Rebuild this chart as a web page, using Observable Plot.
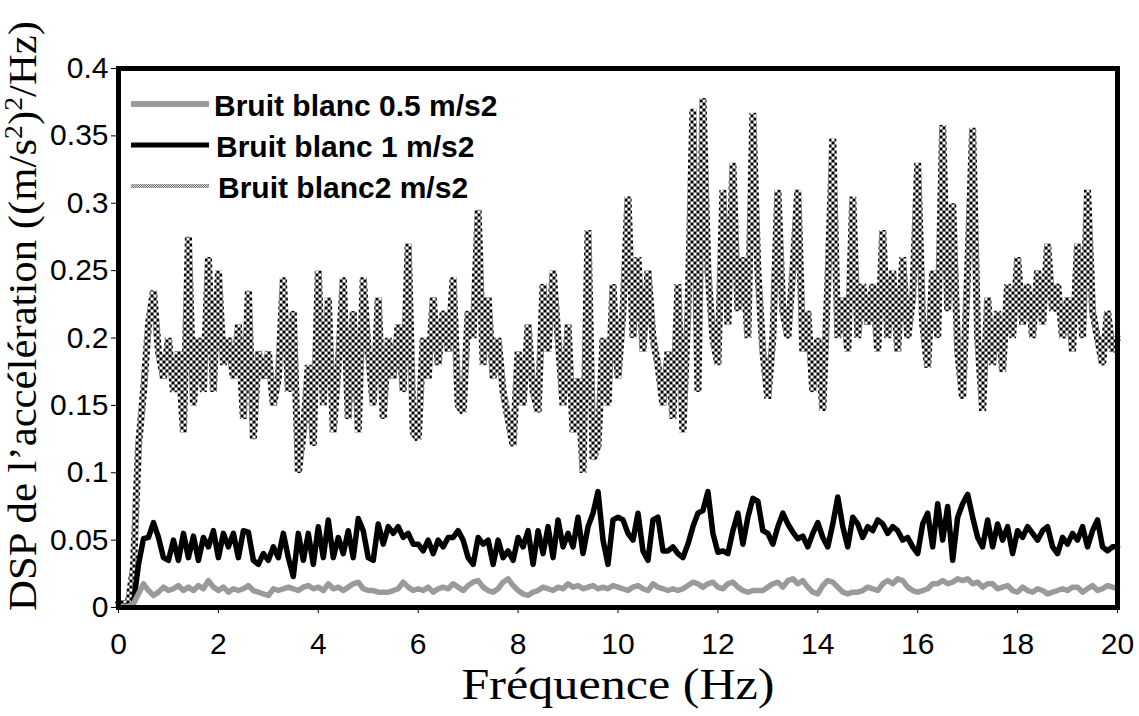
<!DOCTYPE html>
<html><head><meta charset="utf-8">
<script src="https://cdn.jsdelivr.net/npm/d3@7"></script>
<script src="https://cdn.jsdelivr.net/npm/@observablehq/plot@0.6"></script>
<style>body{margin:0;background:#fff}</style>
</head><body>
<svg width="0" height="0" style="position:absolute">
<defs>
<pattern id="checker" patternUnits="userSpaceOnUse" width="6" height="6">
<rect x="0" y="0" width="3" height="3" fill="#000"/>
<rect x="3" y="3" width="3" height="3" fill="#000"/>
</pattern>
<pattern id="checkerLegend" patternUnits="userSpaceOnUse" width="2" height="2">
<rect width="2" height="2" fill="#d8d8d8"/>
<rect x="0" y="0" width="1" height="1" fill="#777"/>
<rect x="1" y="1" width="1" height="1" fill="#777"/>
</pattern>
</defs></svg>
<div id="chart"></div>
<script>
// Frequency grid step (Hz) of the sampled spectra, from 0 to 20 Hz
const freqStep = 0.1;

// Bruit blanc 0.5 m/s2 (gray line)
const bruit05 = [
0.001,0.001,0.001,0.003,0.0101,0.0176,0.0126,0.0089,0.0114,0.0151,
0.0126,0.0139,0.0163,0.0126,0.0151,0.0126,0.0163,0.0139,0.0200,0.0151,
0.0126,0.0151,0.0114,0.0139,0.0126,0.0139,0.0163,0.0126,0.0114,0.0101,
0.0089,0.0139,0.0126,0.0139,0.0151,0.0139,0.0126,0.0151,0.0163,0.0139,
0.0151,0.0126,0.0176,0.0139,0.0151,0.0126,0.0151,0.0176,0.0188,0.0139,
0.0126,0.0126,0.0114,0.0114,0.0114,0.0126,0.0139,0.0188,0.0151,0.0126,
0.0139,0.0126,0.0151,0.0114,0.0139,0.0151,0.0139,0.0176,0.0151,0.0126,
0.0163,0.0188,0.0200,0.0151,0.0126,0.0114,0.0139,0.0188,0.0213,0.0163,
0.0126,0.0101,0.0089,0.0114,0.0126,0.0151,0.0139,0.0126,0.0151,0.0139,
0.0176,0.0151,0.0163,0.0139,0.0151,0.0163,0.0139,0.0151,0.0139,0.0163,
0.0151,0.0139,0.0126,0.0151,0.0163,0.0139,0.0126,0.0176,0.0151,0.0139,
0.0126,0.0139,0.0126,0.0139,0.0163,0.0188,0.0176,0.0151,0.0176,0.0188,
0.0151,0.0139,0.0176,0.0188,0.0151,0.0126,0.0114,0.0126,0.0126,0.0126,
0.0151,0.0176,0.0188,0.0151,0.0200,0.0213,0.0176,0.0200,0.0151,0.0114,
0.0101,0.0163,0.0200,0.0188,0.0151,0.0114,0.0101,0.0114,0.0114,0.0126,
0.0151,0.0139,0.0126,0.0176,0.0200,0.0176,0.0213,0.0200,0.0151,0.0126,
0.0114,0.0126,0.0139,0.0176,0.0176,0.0200,0.0176,0.0188,0.0213,0.0200,
0.0213,0.0176,0.0188,0.0151,0.0176,0.0176,0.0139,0.0151,0.0163,0.0126,
0.0114,0.0151,0.0126,0.0114,0.0139,0.0126,0.0101,0.0114,0.0126,0.0139,
0.0126,0.0151,0.0151,0.0114,0.0139,0.0163,0.0126,0.0139,0.0163,0.0151,
0.0139
];

// Bruit blanc 1 m/s2 (black line)
const bruit1 = [
0.001,0.001,0.002,0.003,0.032,0.051,0.052,0.063,0.052,0.037,
0.035,0.050,0.035,0.055,0.037,0.053,0.035,0.052,0.045,0.057,
0.037,0.055,0.045,0.055,0.037,0.057,0.056,0.035,0.032,0.040,
0.035,0.045,0.037,0.055,0.037,0.023,0.055,0.035,0.055,0.032,
0.060,0.037,0.065,0.037,0.052,0.040,0.057,0.037,0.066,0.057,
0.037,0.035,0.062,0.047,0.060,0.055,0.060,0.052,0.055,0.047,
0.047,0.042,0.050,0.040,0.050,0.045,0.052,0.052,0.057,0.050,
0.037,0.032,0.052,0.047,0.050,0.032,0.050,0.037,0.042,0.035,
0.052,0.045,0.057,0.032,0.057,0.040,0.060,0.037,0.065,0.045,
0.055,0.045,0.067,0.040,0.060,0.070,0.086,0.050,0.032,0.065,
0.067,0.065,0.055,0.050,0.070,0.042,0.035,0.065,0.067,0.042,
0.042,0.045,0.040,0.037,0.047,0.060,0.070,0.072,0.086,0.055,
0.041,0.042,0.040,0.057,0.070,0.047,0.067,0.081,0.079,0.057,
0.055,0.047,0.060,0.070,0.062,0.056,0.051,0.053,0.045,0.055,
0.063,0.052,0.045,0.062,0.082,0.060,0.045,0.067,0.062,0.052,
0.060,0.057,0.065,0.062,0.055,0.060,0.057,0.050,0.052,0.045,
0.040,0.062,0.070,0.045,0.077,0.050,0.075,0.035,0.067,0.077,
0.084,0.067,0.052,0.045,0.065,0.045,0.062,0.050,0.060,0.040,
0.057,0.052,0.060,0.055,0.050,0.057,0.060,0.045,0.040,0.052,
0.047,0.055,0.050,0.060,0.045,0.057,0.065,0.045,0.042,0.045,
0.045
];

// Bruit blanc2 m/s2 (checkered line)
const bruit2 = [
0.003,0.003,0.004,0.030,0.120,0.160,0.210,0.235,0.190,0.170,
0.200,0.160,0.190,0.130,0.275,0.150,0.200,0.160,0.260,0.160,
0.250,0.180,0.200,0.170,0.210,0.140,0.235,0.125,0.190,0.170,
0.190,0.150,0.170,0.245,0.160,0.220,0.100,0.130,0.180,0.120,
0.250,0.150,0.230,0.130,0.180,0.245,0.140,0.220,0.130,0.245,
0.190,0.150,0.230,0.140,0.200,0.170,0.210,0.160,0.270,0.130,
0.125,0.200,0.170,0.230,0.180,0.220,0.190,0.245,0.150,0.145,
0.220,0.200,0.295,0.180,0.230,0.170,0.200,0.160,0.140,0.120,
0.190,0.150,0.210,0.160,0.145,0.240,0.190,0.250,0.200,0.150,
0.210,0.130,0.170,0.100,0.280,0.110,0.120,0.200,0.150,0.240,
0.170,0.220,0.305,0.200,0.260,0.190,0.250,0.200,0.180,0.150,
0.190,0.140,0.240,0.130,0.220,0.370,0.160,0.378,0.250,0.200,
0.180,0.310,0.210,0.330,0.220,0.260,0.200,0.367,0.250,0.190,
0.155,0.200,0.310,0.220,0.200,0.250,0.310,0.190,0.220,0.160,
0.200,0.146,0.240,0.348,0.200,0.230,0.190,0.305,0.200,0.240,
0.210,0.240,0.190,0.280,0.200,0.250,0.190,0.260,0.200,0.230,
0.330,0.210,0.178,0.250,0.200,0.358,0.220,0.300,0.190,0.155,
0.250,0.356,0.200,0.146,0.230,0.180,0.220,0.175,0.240,0.200,
0.260,0.210,0.240,0.200,0.250,0.210,0.270,0.220,0.240,0.200,
0.230,0.190,0.270,0.200,0.310,0.220,0.200,0.180,0.220,0.190,
0.200
];

const seriesNames = ["Bruit blanc 0.5 m/s2", "Bruit blanc 1 m/s2", "Bruit blanc2 m/s2"];
const xTicks = [0, 2, 4, 6, 8, 10, 12, 14, 16, 18, 20];
const yTicks = [0, 0.05, 0.1, 0.15, 0.2, 0.25, 0.3, 0.35, 0.4];

const rows = (vals) => vals.map((v, i) => ({f: Math.round(i * freqStep * 10) / 10, v}));

const chart = Plot.plot({
  width: 1139,
  height: 716,
  marginLeft: 118,
  marginRight: 22,
  marginTop: 68,
  marginBottom: 109,
  style: {fontFamily: '"Liberation Sans", Arial, sans-serif', fontSize: "30px", background: "#fff", color: "#000"},
  x: {domain: [0, 20], ticks: xTicks, tickSize: 6, tickPadding: 19, label: null},
  y: {domain: [0, 0.4], ticks: yTicks, tickSize: 7, tickPadding: 3, label: null,
      tickFormat: d => String(Math.round(d * 100) / 100)},
  marks: [
    Plot.line(rows(bruit2), {x: "f", y: "v", stroke: "url(#checker)", strokeWidth: 7, strokeLinejoin: "miter"}),
    Plot.line(rows(bruit1), {x: "f", y: "v", stroke: "#000", strokeWidth: 5.5}),
    Plot.line(rows(bruit05), {x: "f", y: "v", stroke: "#9a9a9a", strokeWidth: 5.5}),
    Plot.frame({stroke: "#000", strokeWidth: 5})
  ]
});
document.getElementById("chart").appendChild(chart);

const svg = d3.select(chart);
// Y axis title
const yt = svg.append("text")
  .attr("transform", "translate(36,316) rotate(-90)")
  .attr("text-anchor", "middle")
  .attr("font-family", '"Liberation Serif", "Times New Roman", serif')
  .attr("font-size", 40)
  .attr("fill", "#000")
  .attr("textLength", 590)
  .attr("lengthAdjust", "spacingAndGlyphs");
yt.append("tspan").text("DSP de l\u2019accélération ((m/s");
yt.append("tspan").attr("font-size", 26).attr("dy", -14).text("2");
yt.append("tspan").attr("dy", 14).text(")");
yt.append("tspan").attr("font-size", 26).attr("dy", -14).text("2");
yt.append("tspan").attr("dy", 14).text("/Hz)");

// X axis title
svg.append("text")
  .attr("x", 618).attr("y", 699)
  .attr("text-anchor", "middle")
  .attr("font-family", '"Liberation Serif", "Times New Roman", serif')
  .attr("font-size", 44)
  .attr("fill", "#000")
  .attr("textLength", 313)
  .attr("lengthAdjust", "spacingAndGlyphs")
  .text("Fréquence (Hz)");

// Legend
const legendStyles = [
  {stroke: "#9a9a9a", width: 6},
  {stroke: "#000", width: 5},
  {stroke: "url(#checkerLegend)", width: 4}
];
const lg = svg.append("g");
seriesNames.forEach((name, i) => {
  const cy = 104 + i * 41;
  lg.append("line").attr("x1", 131).attr("x2", 209).attr("y1", cy).attr("y2", cy)
    .attr("stroke", legendStyles[i].stroke).attr("stroke-width", legendStyles[i].width);
  lg.append("text").attr("x", 214 + i * 2).attr("y", cy + 12)
    .attr("text-anchor", "start")
    .attr("font-family", '"Liberation Sans", Arial, sans-serif')
    .attr("font-weight", "bold").attr("font-size", 30).attr("fill", "#000")
    .text(name);
});
</script>
</body></html>
